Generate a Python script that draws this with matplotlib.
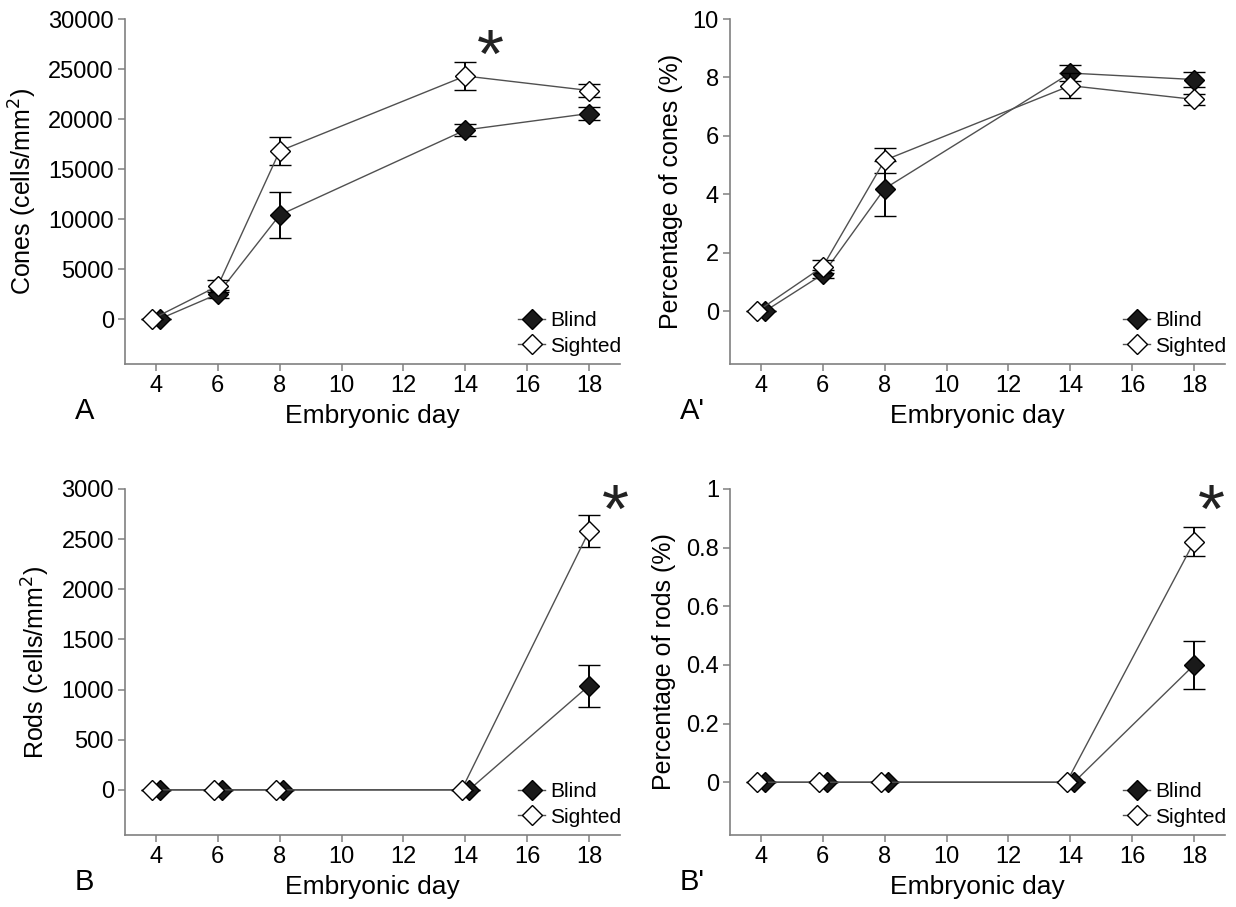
import matplotlib
matplotlib.use("Agg")
import matplotlib.pyplot as plt
import numpy as np

plt.rcParams['font.family'] = ['Liberation Sans Narrow', 'Liberation Sans', 'DejaVu Sans']

# ---------------- data ----------------
days = [4, 6, 8, 14, 18]

cones_blind = [0, 2500, 10400, 18900, 20550]
cones_blind_err = [0, 400, 2300, 600, 650]
cones_sighted = [0, 3300, 16800, 24300, 22850]
cones_sighted_err = [0, 600, 1400, 1400, 650]

pcones_blind = [0, 1.27, 4.2, 8.15, 7.93]
pcones_blind_err = [0, 0.13, 0.95, 0.28, 0.25]
pcones_sighted = [0, 1.53, 5.17, 7.72, 7.25]
pcones_sighted_err = [0, 0.23, 0.43, 0.42, 0.2]

rods_blind = [0, 0, 0, 0, 1040]
rods_blind_err = [0, 0, 0, 0, 210]
rods_sighted = [0, 0, 0, 0, 2580]
rods_sighted_err = [0, 0, 0, 0, 160]

prods_blind = [0, 0, 0, 0, 0.40]
prods_blind_err = [0, 0, 0, 0, 0.083]
prods_sighted = [0, 0, 0, 0, 0.82]
prods_sighted_err = [0, 0, 0, 0, 0.05]

panels = [
    # letter, ylabel, blind, blind err, sighted, sighted err, ylim, yticks, star
    ("A", "Cones (cells/mm$^2$)", cones_blind, cones_blind_err,
     cones_sighted, cones_sighted_err, (-4500, 30000), np.arange(0, 30001, 5000),
     (14.8, 26000)),
    ("A'", "Percentage of cones (%)", pcones_blind, pcones_blind_err,
     pcones_sighted, pcones_sighted_err, (-1.8, 10), np.arange(0, 11, 2), None),
    ("B", "Rods (cells/mm$^2$)", rods_blind, rods_blind_err,
     rods_sighted, rods_sighted_err, (-450, 3000), np.arange(0, 3001, 500),
     (18.85, 2750)),
    ("B'", "Percentage of rods (%)", prods_blind, prods_blind_err,
     prods_sighted, prods_sighted_err, (-0.18, 1), [0, 0.2, 0.4, 0.6, 0.8, 1],
     (18.55, 0.915)),
]

W, H = 1236, 907
fig = plt.figure(figsize=(W / 100, H / 100), dpi=100)

# axes boxes in pixels: left, right, top, bottom
boxes = [(125, 620, 19, 364), (730, 1225, 19, 364),
         (125, 620, 489, 835), (730, 1225, 489, 835)]

spine_col = '#808080'
line_col = '#505050'

for (letter, ylab, yb, eb, ys, es, ylim, yt, star), (l, r, t, b) in zip(panels, boxes):
    ax = fig.add_axes([l / W, 1 - b / H, (r - l) / W, (b - t) / H])
    d = np.array(days, dtype=float)
    yb = np.array(yb, dtype=float)
    ys = np.array(ys, dtype=float)
    # small horizontal shift where both series sit on zero
    xb = d + np.where(yb == 0, 0.12, 0)
    xs = d - np.where(ys == 0, 0.12, 0)

    ax.errorbar(xb, yb, yerr=eb, color=line_col, lw=1.0, ecolor='black',
                elinewidth=1.4, capsize=8, capthick=1.4, marker='D', ms=10.5,
                mfc='#1a1a1a', mec='black', mew=1.0, label='Blind', zorder=3)
    ax.errorbar(xs, ys, yerr=es, color=line_col, lw=1.0, ecolor='black',
                elinewidth=1.4, capsize=8, capthick=1.4, marker='D', ms=10.5,
                mfc='white', mec='black', mew=1.0, label='Sighted', zorder=4)

    ax.set_xlim(3, 19)
    ax.set_ylim(*ylim)
    ax.set_xticks(range(4, 19, 2))
    ax.set_yticks(yt)
    ax.set_yticklabels([f"{v:g}" for v in yt])
    ax.spines['top'].set_visible(False)
    ax.spines['right'].set_visible(False)
    for s in ('left', 'bottom'):
        ax.spines[s].set_color(spine_col)
        ax.spines[s].set_linewidth(1.2)
    ax.spines['left'].set_bounds(ylim[0], yt[-1])
    ax.tick_params(direction='out', length=5, width=1.1, color=spine_col,
                   labelsize=17, pad=3)
    ax.set_ylabel(ylab, fontsize=18, labelpad=7)
    ax.set_xlabel("Embryonic day", fontsize=19, labelpad=5)

    h, lbl = ax.get_legend_handles_labels()
    h = [hh[0] for hh in h]
    ax.legend(h, lbl, loc='lower right', frameon=False, fontsize=15,
              handlelength=1.3, handletextpad=0.25, labelspacing=0.3,
              borderaxespad=0.2, borderpad=0.2, bbox_to_anchor=(1.02, 0.0))

    if star is not None:
        ax.text(star[0], star[1], "*", fontsize=50, ha='center', va='center',
                color='#222222')

    fig.text((l - 50) / W, 1 - (b + 47) / H, letter, fontsize=21,
             ha='left', va='center')

fig.savefig("out.png", dpi=100)
